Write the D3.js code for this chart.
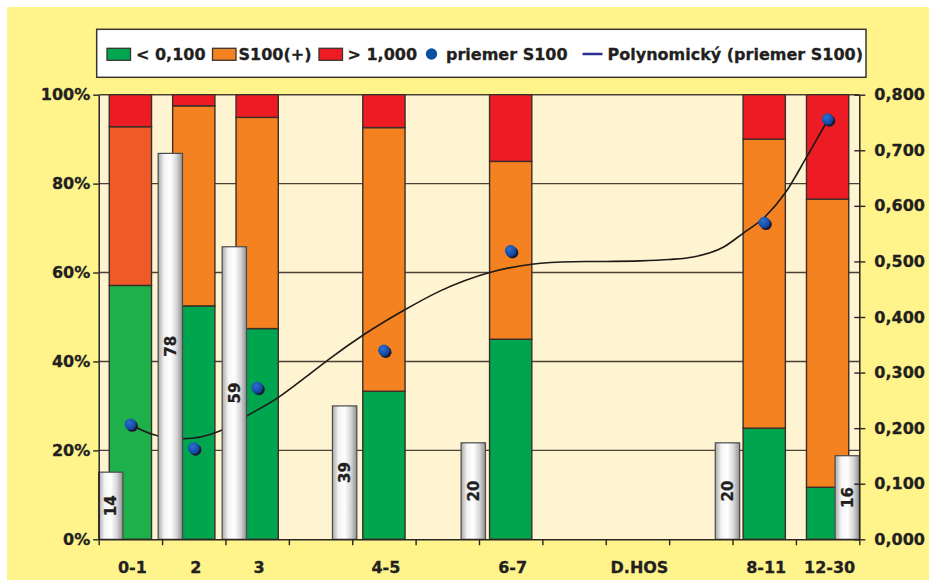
<!DOCTYPE html>
<html>
<head>
<meta charset="utf-8">
<script src="https://cdn.jsdelivr.net/npm/d3@7/dist/d3.min.js"></script>
<style>
  html, body { margin: 0; padding: 0; background: #ffffff; }
  svg text { font-family: "DejaVu Sans", sans-serif; font-weight: bold; fill: #231F20; stroke: #231F20; stroke-width: 0.3px; }
</style>
</head>
<body>
<svg id="chart" width="936" height="580"></svg>
<script>
// ---------------- DATA ----------------
const categories = ["0-1", "2", "3", "", "4-5", "", "6-7", "", "D.HOS", "", "8-11", "12-30"];
// stacked shares (% of cases)
const lowPct  = [57.1, 52.5, 47.4, null, 33.3, null, 45.0, null, null, null, 25.0, 11.7];   // < 0,100
const s100Pct = [35.7, 45.0, 47.5, null, 59.3, null, 40.0, null, null, null, 65.0, 64.8];   // S100(+)
const highPct = [7.2, 2.5, 5.1, null, 7.4, null, 15.0, null, null, null, 10.0, 23.5];       // > 1,000
// mean S100 (right axis)
const meanS100 = [0.207, 0.164, 0.273, null, 0.340, null, 0.519, null, null, null, 0.570, 0.756];
// counts (white columns): label, x-value on the category axis (band units), height (% of left axis)
const countLabels = ["14", "78", "59", "39", "20", "20", "16"];
const countX = [0.19, 1.13, 2.14, 3.88, 5.91, 9.92, 11.81];
const countHeightPct = [15.1, 86.8, 65.8, 30.0, 21.7, 21.7, 18.8];
// polynomial trendline (x in band units, y on right axis)
const trendX = [0.5, 0.65, 0.94, 1.33, 1.91, 2.32, 2.83, 3.28, 3.62, 4.18, 4.83, 5.39, 6.17, 6.83, 7.49, 8.0, 8.54, 9.0, 9.38, 9.86, 10.17, 10.51, 10.83, 11.17, 11.5];
const trendY = [0.207, 0.198, 0.186, 0.181, 0.195, 0.221, 0.255, 0.293, 0.323, 0.368, 0.413, 0.447, 0.480, 0.495, 0.4995, 0.500, 0.501, 0.5035, 0.508, 0.526, 0.551, 0.580, 0.623, 0.688, 0.754];
// ticks
const leftTicks = [0, 0.2, 0.4, 0.6, 0.8, 1.0];
const rightTicks = [0, 0.1, 0.2, 0.3, 0.4, 0.5, 0.6, 0.7, 0.8];
const legendLabels = ["< 0,100", "S100(+)", "> 1,000", "priemer S100", "Polynomický (priemer S100)"];

// ---------------- LAYOUT ----------------
const W = 936, H = 580;
const L = 98.7, R = 859.3, T = 94.7, B = 539.3;
const ink = "#2A2420";
const svg = d3.select("#chart");

const defs = svg.append("defs");
const cyl = defs.append("linearGradient").attr("id", "cyl").attr("x1", "0").attr("x2", "1").attr("y1", "0").attr("y2", "0");
cyl.append("stop").attr("offset", "0").attr("stop-color", "#A9A9A9");
cyl.append("stop").attr("offset", "0.25").attr("stop-color", "#F4F4F4");
cyl.append("stop").attr("offset", "0.5").attr("stop-color", "#FFFFFF");
cyl.append("stop").attr("offset", "0.75").attr("stop-color", "#D8D8D8");
cyl.append("stop").attr("offset", "1").attr("stop-color", "#8F8F8F");
const dotG = defs.append("radialGradient").attr("id", "dotg").attr("cx", "0.4").attr("cy", "0.35").attr("r", "0.7");
dotG.append("stop").attr("offset", "0").attr("stop-color", "#2E6FD0");
dotG.append("stop").attr("offset", "1").attr("stop-color", "#0B3F96");

// backgrounds
svg.append("rect").attr("width", W).attr("height", H).attr("fill", "#ffffff");
svg.append("rect").attr("x", 7).attr("y", 7).attr("width", W - 14).attr("height", H - 7).attr("fill", "#FFF48C");
svg.append("rect").attr("x", L).attr("y", T).attr("width", R - L).attr("height", B - T).attr("fill", "#FEF4D2");

// scales
const idx = d3.range(categories.length);
const xBand = d3.scaleBand().domain(idx).range([L, R]).paddingInner(1 / 3).paddingOuter(1 / 6);
const xu = d3.scaleLinear().domain([0, categories.length]).range([L, R]);
const yL = d3.scaleLinear().domain([0, 1]).range([B, T]);
const yR = d3.scaleLinear().domain([0, 0.8]).range([B, T]);

// gridlines
svg.append("g").selectAll("line").data(leftTicks.filter(d => d > 0)).join("line")
  .attr("x1", L).attr("x2", R)
  .attr("y1", d => yL(d)).attr("y2", d => yL(d))
  .attr("stroke", "#4A4038").attr("stroke-width", 1.4);

// stacked bars
const stackRows = idx.filter(i => lowPct[i] != null).map(i => ({
  i, low: lowPct[i] / 100, s100: s100Pct[i] / 100, high: highPct[i] / 100
}));
const series = d3.stack().keys(["low", "s100", "high"])(stackRows);
const colorFor = (key, i) => {
  if (key === "low") return i === 0 ? "#1DB04B" : "#00A54F";
  if (key === "s100") return i === 0 ? "#F05A28" : "#F48220";
  return "#ED1C24";
};
svg.append("g").selectAll("g").data(series).join("g")
  .each(function (s) {
    d3.select(this).selectAll("rect").data(s).join("rect")
      .attr("x", d => xBand(d.data.i))
      .attr("width", xBand.bandwidth())
      .attr("y", d => yL(d[1]))
      .attr("height", d => yL(d[0]) - yL(d[1]))
      .attr("fill", d => colorFor(s.key, d.data.i))
      .attr("stroke", "#3A2E28").attr("stroke-width", 1.4);
  });

// trendline
const trendData = trendX.map((x, k) => [x, trendY[k]]);
svg.append("path").datum(trendData)
  .attr("d", d3.line().x(d => xu(d[0])).y(d => yR(d[1])).curve(d3.curveMonotoneX))
  .attr("fill", "none").attr("stroke", "#1E1A18").attr("stroke-width", 1.6);

// mean points
const pts = idx.filter(i => meanS100[i] != null);
const pg = svg.append("g");
pg.selectAll("circle.sh").data(pts).join("circle").attr("class", "sh")
  .attr("cx", i => xBand(i) + xBand.bandwidth() / 2 + 1.8)
  .attr("cy", i => yR(meanS100[i]) + 1.8)
  .attr("r", 5.8).attr("fill", "#1B1B30");
pg.selectAll("circle.dot").data(pts).join("circle").attr("class", "dot")
  .attr("cx", i => xBand(i) + xBand.bandwidth() / 2)
  .attr("cy", i => yR(meanS100[i]))
  .attr("r", 5.8).attr("fill", "url(#dotg)");

// count columns (white cylinders)
const cw = xu(0.384) - xu(0);
const cg = svg.append("g");
countLabels.forEach((lab, k) => {
  const cx = xu(countX[k]);
  const top = yL(countHeightPct[k] / 100);
  cg.append("rect")
    .attr("x", cx - cw / 2).attr("y", top)
    .attr("width", cw).attr("height", B - top)
    .attr("fill", "url(#cyl)").attr("stroke", "#4A4A4A").attr("stroke-width", 1.2);
  cg.append("text")
    .attr("transform", `translate(${cx},${(top + B) / 2}) rotate(-90)`)
    .attr("text-anchor", "middle").attr("dy", "0.36em")
    .attr("font-size", 15).text(lab);
});

// axes
const fmtR = d3.formatLocale({ decimal: ",", thousands: " ", grouping: [3], currency: ["", ""] }).format(".3f");
const styleAxis = g => {
  g.selectAll("path.domain").attr("stroke", ink).attr("stroke-width", 1.5);
  g.selectAll(".tick line").attr("stroke", ink).attr("stroke-width", 1.4);
  g.selectAll("text").attr("font-size", 16).attr("fill", "#231F20")
    .attr("font-family", '"DejaVu Sans", sans-serif').attr("font-weight", "bold");
};
svg.append("g").attr("transform", `translate(${L},0)`)
  .call(d3.axisLeft(yL).tickValues(leftTicks).tickFormat(d3.format(".0%")).tickSize(5.5).tickSizeOuter(0).tickPadding(3))
  .call(styleAxis);
const rAxis = svg.append("g").attr("transform", `translate(${R},0)`)
  .call(d3.axisRight(yR).tickValues(rightTicks).tickFormat(fmtR).tickSize(6).tickSizeOuter(0).tickPadding(9))
  .call(styleAxis);
rAxis.selectAll(".tick line").attr("x1", -5);
svg.append("g").attr("transform", `translate(0,${B})`)
  .call(d3.axisBottom(xu).tickValues(d3.range(categories.length + 1)).tickFormat("").tickSize(6).tickSizeOuter(0))
  .call(styleAxis);
const catAxis = svg.append("g").attr("transform", `translate(2,${B})`)
  .call(d3.axisBottom(xBand).tickFormat(i => categories[i]).tickSize(0).tickPadding(22))
  .call(styleAxis);
catAxis.select("path.domain").remove();

// legend
const lg = svg.append("g");
lg.append("rect").attr("x", 96.7).attr("y", 29.3).attr("width", 769.3).attr("height", 48)
  .attr("fill", "#ffffff").attr("stroke", "#3A3530").attr("stroke-width", 1.5);
const swCols = ["#00A54F", "#F48220", "#ED1C24"];
const swX = [107, 212.5, 319];
const txX = [136, 238.5, 347.5, 446, 607.5];
swCols.forEach((c, k) => {
  lg.append("rect").attr("x", swX[k]).attr("y", 48.3).attr("width", 23.5).attr("height", 12)
    .attr("fill", c).attr("stroke", "#3A3530").attr("stroke-width", 1.3);
});
lg.append("circle").attr("cx", 431.5).attr("cy", 54).attr("r", 5.7).attr("fill", "#0B4FA3");
lg.append("line").attr("x1", 582.5).attr("x2", 602.5).attr("y1", 54).attr("y2", 54)
  .attr("stroke", "#2E3192").attr("stroke-width", 2.5);
legendLabels.forEach((t, k) => {
  lg.append("text").attr("x", txX[k]).attr("y", 59.6).attr("font-size", 16).text(t);
});
</script>
</body>
</html>
